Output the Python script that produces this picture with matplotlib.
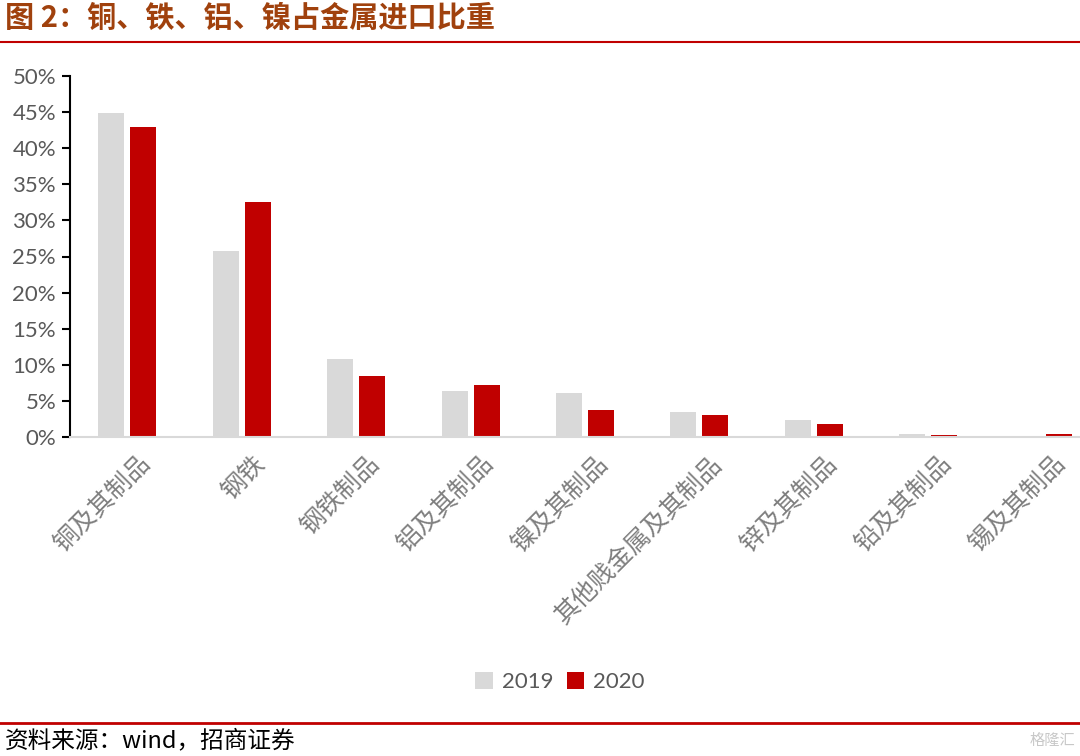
import matplotlib
matplotlib.use("Agg")
import matplotlib.pyplot as plt
from matplotlib.lines import Line2D
from matplotlib.patches import Patch
import numpy as np

categories = ["铜及其制品", "钢铁", "钢铁制品", "铝及其制品", "镍及其制品",
              "其他贱金属及其制品", "锌及其制品", "铅及其制品", "锡及其制品"]
vals_2019 = [44.9, 25.8, 10.8, 6.4, 6.1, 3.5, 2.4, 0.4, 0.0]
vals_2020 = [42.9, 32.5, 8.4, 7.2, 3.7, 3.0, 1.8, 0.25, 0.4]
series_names = ["2019", "2020"]
yticks = [0, 5, 10, 15, 20, 25, 30, 35, 40, 45, 50]

plt.rcParams['font.family'] = ['Noto Sans CJK SC', 'DejaVu Sans']

W, H = 1080, 756
fig = plt.figure(figsize=(W / 100, H / 100), dpi=100)

# axes: x from 70px to 1100px, y from 437px (0) to 76px (50)
ax = fig.add_axes([70 / W, 1 - 437 / H, 1030 / W, (437 - 76) / H])
x = np.arange(len(categories))
bw = 0.227
c19 = "#D9D9D9"
c20 = "#C00000"
ax.bar(x - 0.14, vals_2019, width=bw, color=c19, zorder=2)
ax.bar(x + 0.14, vals_2020, width=bw, color=c20, zorder=2)
ax.set_xlim(-0.5, len(categories) - 0.5)
ax.set_ylim(0, 50)
ax.set_yticks(yticks)
ax.set_yticklabels([f"{v}%" for v in yticks], family=['Lato', 'DejaVu Sans'],
                   fontsize=16, color="#595959")
# invisible ticks placed slightly right of centre so rotated labels sit like the original
ax.set_xticks(x + 0.09)
ax.set_xticklabels(categories, rotation=45, ha="right", rotation_mode="anchor",
                   fontsize=18, color="#7F7F7F")
ax.tick_params(axis='x', length=0, pad=10)
ax.tick_params(axis='y', length=6, width=1.5, color="black", pad=4)
for s in ["top", "right"]:
    ax.spines[s].set_visible(False)
ax.spines["left"].set_color("black")
ax.spines["left"].set_linewidth(1.5)
ax.spines["bottom"].set_color("#D9D9D9")
ax.spines["bottom"].set_linewidth(1.5)

handles = [Patch(facecolor=c19), Patch(facecolor=c20)]
fig.legend(handles, series_names, loc="center", bbox_to_anchor=(560 / W, 1 - 682 / H),
           ncol=2, frameon=False, handlelength=0.8, handleheight=0.8,
           columnspacing=0.6, handletextpad=0.4,
           prop={'family': ['Lato', 'DejaVu Sans'], 'size': 16}, labelcolor="#595959")

# title
fig.text(5 / W, 1 - 18 / H, "图 2：铜、铁、铝、镍占金属进口比重", fontsize=21,
         fontweight="bold", color="#A0410D", va="center", ha="left")
fig.add_artist(Line2D([0, 1], [1 - 42 / H, 1 - 42 / H], color="#C00000", lw=1.5))
fig.add_artist(Line2D([0, 1], [1 - 723 / H, 1 - 723 / H], color="#C00000", lw=2))
fig.text(5 / W, 1 - 741 / H, "资料来源：wind，招商证券", fontsize=17,
         color="black", va="center", ha="left")
fig.text(1075 / W, 1 - 740 / H, "格隆汇", fontsize=11, color="#C8C8C8",
         va="center", ha="right")

fig.savefig("out.png", dpi=100)
